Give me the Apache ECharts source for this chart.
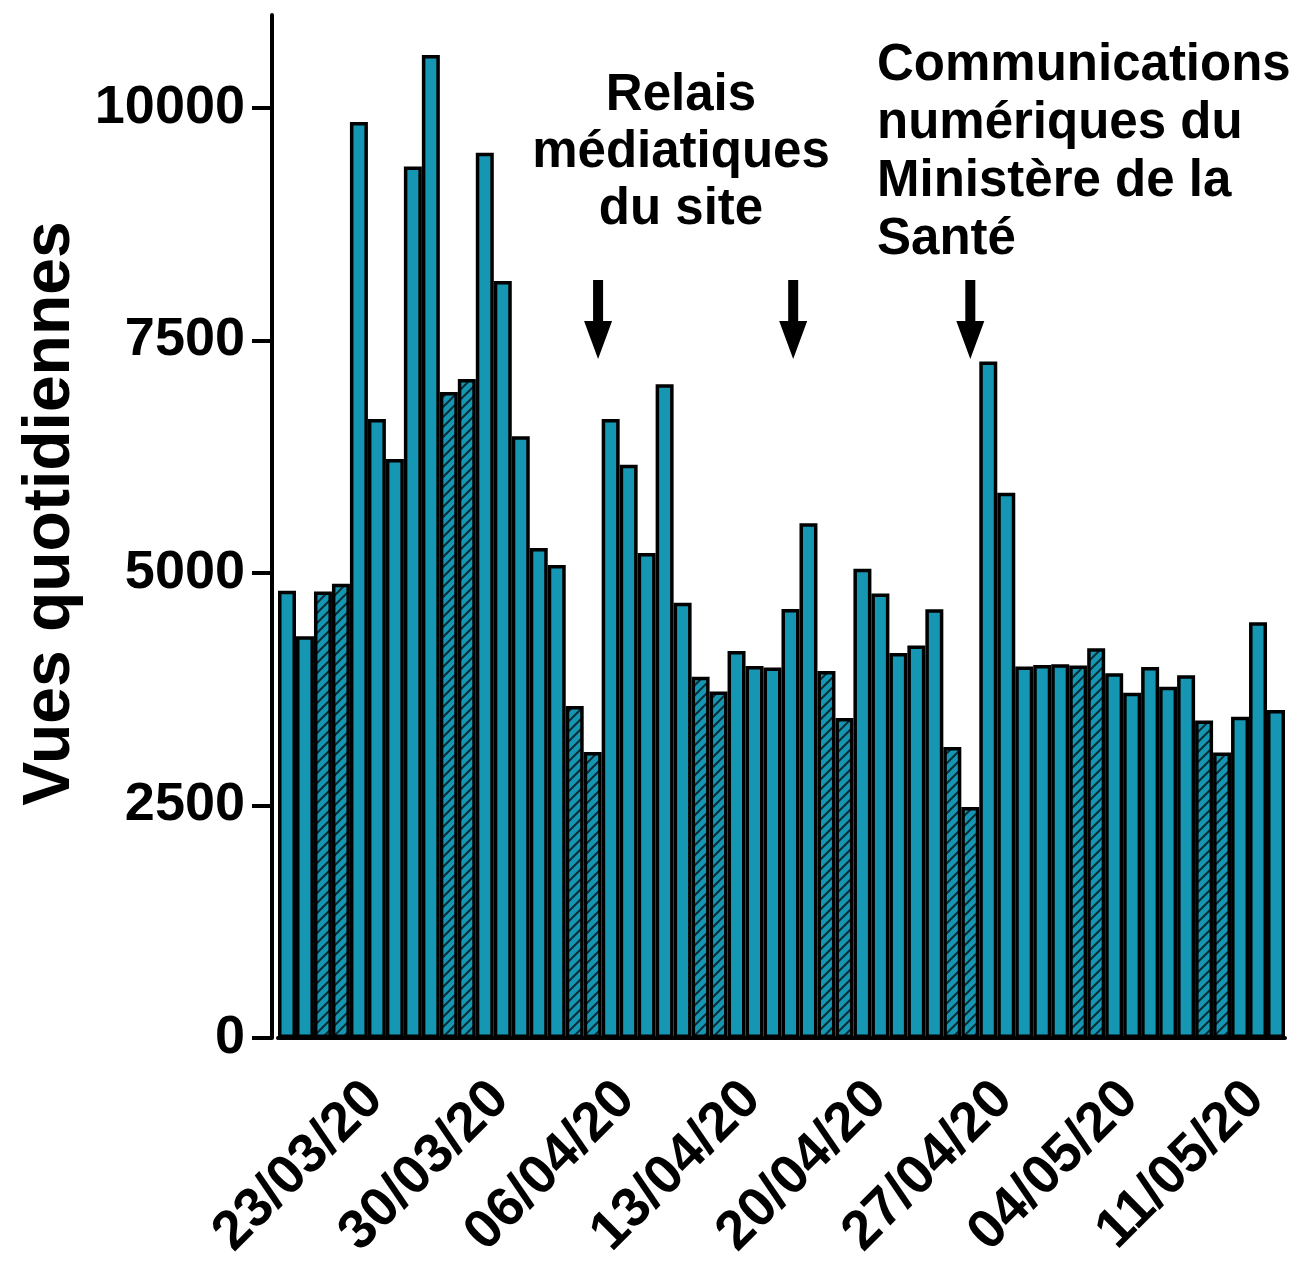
<!DOCTYPE html>
<html>
<head>
<meta charset="utf-8">
<script src="https://cdn.jsdelivr.net/npm/echarts@6/dist/echarts.min.js"></script>
<style>
  html, body { margin: 0; padding: 0; background: #fff; }
  #chart { width: 1297px; height: 1262px; }
</style>
</head>
<body>
<div id="chart"></div>
<script>
// daily views, 19/03/20 -> 13/05/20
const dates = [
  '19/03/20', '20/03/20', '21/03/20', '22/03/20', '23/03/20', '24/03/20', '25/03/20',
  '26/03/20', '27/03/20', '28/03/20', '29/03/20', '30/03/20', '31/03/20', '01/04/20',
  '02/04/20', '03/04/20', '04/04/20', '05/04/20', '06/04/20', '07/04/20', '08/04/20',
  '09/04/20', '10/04/20', '11/04/20', '12/04/20', '13/04/20', '14/04/20', '15/04/20',
  '16/04/20', '17/04/20', '18/04/20', '19/04/20', '20/04/20', '21/04/20', '22/04/20',
  '23/04/20', '24/04/20', '25/04/20', '26/04/20', '27/04/20', '28/04/20', '29/04/20',
  '30/04/20', '01/05/20', '02/05/20', '03/05/20', '04/05/20', '05/05/20', '06/05/20',
  '07/05/20', '08/05/20', '09/05/20', '10/05/20', '11/05/20', '12/05/20', '13/05/20'
];
const views = [
  4810, 4320, 4800, 4885, 9850, 6655, 6225,
  9370, 10570, 6945, 7085, 9520, 8140, 6470,
  5270, 5085, 3570, 3075, 6655, 6165, 5215,
  7030, 4680, 3885, 3725, 4160, 4000, 3985,
  4612, 5535, 3947, 3441, 5045, 4780, 4140,
  4220, 4610, 3130, 2485, 7275, 5862, 3995,
  4010, 4018, 4005, 4190, 3922, 3713, 3988,
  3777, 3900, 3415, 3070, 3453, 4470, 3527
];
const yTicks = [0, 2500, 5000, 7500, 10000];
const firstTick = 4; // 23/03/20, then weekly

// annotation arrows: category position and value of tip / tail
const arrowAt = [17.3, 28.15, 38];
const arrowTip = 7300;
const arrowTail = 8150;

const teal = '#1597b3';

function isWeekend(d) {
  const p = d.split('/');
  const day = new Date(2000 + Number(p[2]), Number(p[1]) - 1, Number(p[0])).getDay();
  return day === 0 || day === 6;
}

// hatch pattern for weekends
const hatch = document.createElement('canvas');
hatch.width = 10;
hatch.height = 10;
(function () {
  const c = hatch.getContext('2d');
  c.fillStyle = teal;
  c.fillRect(0, 0, 10, 10);
  c.strokeStyle = '#0b2d36';
  c.lineWidth = 2;
  c.beginPath();
  c.moveTo(-1, 11); c.lineTo(11, -1);
  c.moveTo(-1, 1); c.lineTo(1, -1);
  c.moveTo(9, 11); c.lineTo(11, 9);
  c.stroke();
})();

const barData = views.map((v, i) => ({
  value: v,
  itemStyle: isWeekend(dates[i]) ? { color: { image: hatch, repeat: 'repeat' } } : {}
}));

const font = '"Liberation Sans", Arial, sans-serif';
const showTick = (i) => i >= firstTick && (i - firstTick) % 7 === 0;

const chart = echarts.init(document.getElementById('chart'));
chart.setOption({
  animation: false,
  grid: { left: 278, right: 12, top: 15, bottom: 224, outerBoundsMode: 'none', containLabel: false },
  xAxis: {
    type: 'category',
    data: dates,
    axisLine: { lineStyle: { color: '#000', width: 4 } },
    axisTick: {
      interval: (i) => showTick(i),
      alignWithLabel: true,
      length: 20,
      lineStyle: { color: '#000', width: 4 }
    },
    axisLabel: {
      interval: (i) => showTick(i),
      rotate: 45,
      margin: 37,
      verticalAlign: 'top',
      lineHeight: 44,
      color: '#000',
      fontSize: 55,
      fontWeight: 'bold',
      fontFamily: font
    }
  },
  yAxis: {
    type: 'value',
    min: 0,
    max: 11000,
    offset: 6,
    name: 'Vues quotidiennes',
    nameLocation: 'middle',
    nameRotate: 90,
    nameGap: 188,
    nameTextStyle: {
      color: '#000', fontSize: 66, fontWeight: 'bold', fontFamily: font,
      padding: [0, 0, 0, 26]
    },
    splitLine: { show: false },
    axisLine: { show: true, lineStyle: { color: '#000', width: 4 } },
    axisTick: {
      show: true,
      customValues: yTicks,
      length: 20,
      lineStyle: { color: '#000', width: 4 }
    },
    axisLabel: {
      customValues: yTicks,
      formatter: (v) => String(v),
      margin: 27,
      color: '#000',
      fontSize: 54,
      fontWeight: 'bold',
      fontFamily: font
    }
  },
  series: [{
    type: 'bar',
    data: barData,
    barCategoryGap: '0%',
    itemStyle: { color: teal, borderColor: '#000', borderWidth: 3.5 }
  }]
});

// arrows + annotation texts
function catToPx(pos, val) {
  const a = Math.floor(pos), b = Math.ceil(pos);
  const pa = chart.convertToPixel({ seriesIndex: 0 }, [a, val]);
  const pb = chart.convertToPixel({ seriesIndex: 0 }, [b, val]);
  const t = pos - a;
  return [pa[0] + (pb[0] - pa[0]) * t, pa[1]];
}

const graphics = arrowAt.map((pos) => {
  const tip = catToPx(pos, arrowTip);
  const tail = catToPx(pos, arrowTail);
  const x = tip[0], y0 = tail[1], y1 = tip[1];
  const headH = 38;
  return {
    type: 'polygon',
    shape: {
      points: [
        [x - 5, y0], [x + 5, y0], [x + 5, y1 - headH], [x + 14, y1 - headH],
        [x, y1], [x - 14, y1 - headH], [x - 5, y1 - headH]
      ]
    },
    style: { fill: '#000' },
    z: 10
  };
});

graphics.push({
  type: 'text',
  x: 681, y: 67,
  style: {
    text: 'Relais\nmédiatiques\ndu site',
    fill: '#000',
    font: 'bold 51px ' + font,
    textAlign: 'center',
    textVerticalAlign: 'top',
    lineHeight: 57
  }
});
graphics.push({
  type: 'text',
  x: 877, y: 37,
  style: {
    text: 'Communications\nnumériques du\nMinistère de la\nSanté',
    fill: '#000',
    font: 'bold 51px ' + font,
    textAlign: 'left',
    textVerticalAlign: 'top',
    lineHeight: 58
  }
});

chart.setOption({ graphic: graphics });
</script>
</body>
</html>
